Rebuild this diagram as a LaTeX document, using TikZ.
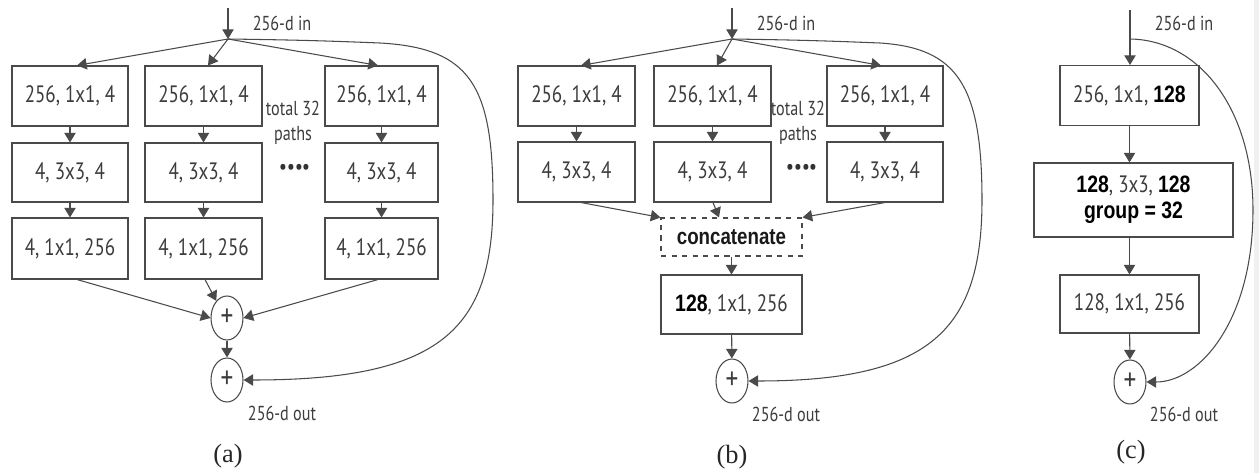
\documentclass[tikz,border=0pt]{standalone}
\usepackage{fontspec}
\setmainfont{PT Sans}[FakeStretch=0.8]
\newfontfamily\bfam{Liberation Sans}[FakeStretch=0.82]
\newfontfamily\capfam{Liberation Serif}
\usetikzlibrary{arrows.meta,shapes.geometric}
\definecolor{ln}{HTML}{4A4A4A}
\definecolor{tx}{HTML}{3C3C3C}
\newcommand{\bnum}[1]{{\bfam\bfseries\color{black}#1}}
\tikzset{
  box/.style={draw=ln, line width=0.6pt, inner sep=0pt, text=tx, font=\fontsize{13.5}{14}\selectfont, align=center},
  wh/.style 2 args={minimum width=#1*0.02cm, minimum height=#2*0.02cm},
  plus/.style={ellipse, draw=ln, line width=0.6pt, inner sep=0pt, minimum width=0.64cm, minimum height=0.88cm, text=tx, font=\fontsize{18}{18}\selectfont},
  arr/.style={draw=ln, line width=0.6pt, -{Triangle[length=5.5pt,width=6.5pt]}},
  lbl/.style={text=tx, font=\fontsize{11.5}{14}\selectfont, inner sep=0pt, align=center},
  captext/.style={font=\capfam\fontsize{15}{17}\selectfont, text=black!85, inner sep=0pt},
  dotsty/.style={text=black!80, font=\bfseries\fontsize{22}{22}\selectfont, inner sep=0pt},
  concat/.style={draw=ln, dashed, line width=0.6pt, inner sep=0pt, font=\bfam\bfseries\fontsize{13}{14}\selectfont, text=black!90}
}
\begin{document}
\begin{tikzpicture}[x=0.02cm, y=-0.02cm]
\useasboundingbox (0,0) rectangle (1259,473);
\fill[black!6] (1254,0) rectangle (1259,473);

% ---------------- (a) ----------------
\coordinate (ain0) at (228,8);
\coordinate (asp) at (228,39);
\draw[arr] (ain0) -- (asp);
\node[lbl] (aintxt) at (282,23) {256-d in};
\node[box, wh={116}{60}] (a11) at (70,96) {256, 1x1, 4};
\node[box, wh={117}{60}] (a21) at (203.5,96) {256, 1x1, 4};
\node[box, wh={113}{60}] (a31) at (381.5,96) {256, 1x1, 4};
\node[box, wh={116}{59}] (a12) at (70,172.5) {4, 3x3, 4};
\node[box, wh={117}{59}] (a22) at (203.5,172.5) {4, 3x3, 4};
\node[box, wh={113}{59}] (a32) at (381.5,172.5) {4, 3x3, 4};
\node[box, wh={116}{61}] (a13) at (70,248.5) {4, 1x1, 256};
\node[box, wh={117}{61}] (a23) at (203.5,248.5) {4, 1x1, 256};
\node[box, wh={113}{61}] (a33) at (381.5,248.5) {4, 1x1, 256};
\node[lbl] (atot) at (293,123) {total 32\\paths};
\node[dotsty] (adots) at (295,172) {····};
\node[plus] (ap1) at (227,318) {+};
\node[plus] (ap2) at (227,380) {+};
\node[lbl] (aout) at (282,413) {256-d out};
\node[captext] (acap) at (228,456) {(a)};
\draw[arr] (asp) -- (77,0 |- a11.north);
\draw[arr] (asp) -- (208,0 |- a21.north);
\draw[arr] (asp) -- (378,0 |- a31.north);
\draw[arr] (a11) -- (a12);
\draw[arr] (a21) -- (a22);
\draw[arr] (a31) -- (a32);
\draw[arr] (a12) -- (a13);
\draw[arr] (a22) -- (a23);
\draw[arr] (a32) -- (a33);
\draw[arr] (77,0 |- a13.south) -- (ap1.west);
\draw[arr] (205,0 |- a23.south) -- (ap1.122);
\draw[arr] (378,0 |- a33.south) -- (ap1.east);
\draw[arr] (ap1) -- (ap2);
\draw[arr] (asp) .. controls (300,40) and (330,41) .. (380,43)
  .. controls (470,48) and (493,85) .. (493,200)
  .. controls (493,330) and (440,380) .. (ap2.east);

% ---------------- (b) ----------------
\coordinate (bin0) at (732,8);
\coordinate (bsp) at (732,39);
\draw[arr] (bin0) -- (bsp);
\node[lbl] (bintxt) at (786,23) {256-d in};
\node[box, wh={117}{60}] (b11) at (576.5,96) {256, 1x1, 4};
\node[box, wh={117}{60}] (b21) at (712.5,96) {256, 1x1, 4};
\node[box, wh={116}{60}] (b31) at (885,96) {256, 1x1, 4};
\node[box, wh={117}{60}] (b12) at (576.5,172) {4, 3x3, 4};
\node[box, wh={117}{60}] (b22) at (712.5,172) {4, 3x3, 4};
\node[box, wh={116}{60}] (b32) at (885,172) {4, 3x3, 4};
\node[lbl] (btot) at (798,123) {total 32\\paths};
\node[dotsty] (bdots) at (802,172) {····};
\node[concat, wh={141}{38}] (bc) at (731.5,237) {concatenate};
\node[box, wh={141}{59}] (b4) at (731.5,304.5) {\bnum{128}, 1x1, 256};
\node[plus] (bp) at (732,381) {+};
\node[lbl] (bout) at (786,414) {256-d out};
\node[captext] (bcap) at (732,457) {(b)};
\draw[arr] (bsp) -- (581,0 |- b11.north);
\draw[arr] (bsp) -- (717,0 |- b21.north);
\draw[arr] (bsp) -- (881,0 |- b31.north);
\draw[arr] (b11) -- (b12);
\draw[arr] (b21) -- (b22);
\draw[arr] (b31) -- (b32);
\draw[arr] (581,0 |- b12.south) -- (bc.north west);
\draw[arr] (713,0 |- b22.south) -- (719,0 |- bc.north);
\draw[arr] (885,0 |- b32.south) -- (bc.north east);
\draw[arr] (bc) -- (b4);
\draw[arr] (b4) -- (bp);
\draw[arr] (bsp) .. controls (800,40) and (830,41) .. (880,43)
  .. controls (957,48) and (982,85) .. (982,200)
  .. controls (982,330) and (930,381) .. (bp.east);

% ---------------- (c) ----------------
\coordinate (cin0) at (1130,10);
\coordinate (csp) at (1130,39);
\node[lbl] (cintxt) at (1184,23) {256-d in};
\node[box, wh={139}{60}] (c1) at (1129.5,95.5) {256, 1x1, \bnum{128}};
\node[box, wh={199}{74}] (c2) at (1133.5,200) {\bnum{128}, 3x3, \bnum{128}\\[1pt]\bnum{group = 32}};
\node[box, wh={139}{58}] (c3) at (1129.5,304) {128, 1x1, 256};
\node[plus] (cp) at (1130,382) {+};
\node[lbl] (cout) at (1184,414) {256-d out};
\node[captext] (ccap) at (1131,452) {(c)};
\draw[arr] (cin0) -- (cin0 |- c1.north);
\draw[arr] (c1.south) -- (c1.south |- c2.north);
\draw[arr] (c3.north |- c2.south) -- (c3.north);
\draw[arr] (c3) -- (cp);
\draw[arr] (csp) .. controls (1200,40) and (1253,110) .. (1253,210)
  .. controls (1253,320) and (1200,382) .. (cp.east);
\end{tikzpicture}
\end{document}
